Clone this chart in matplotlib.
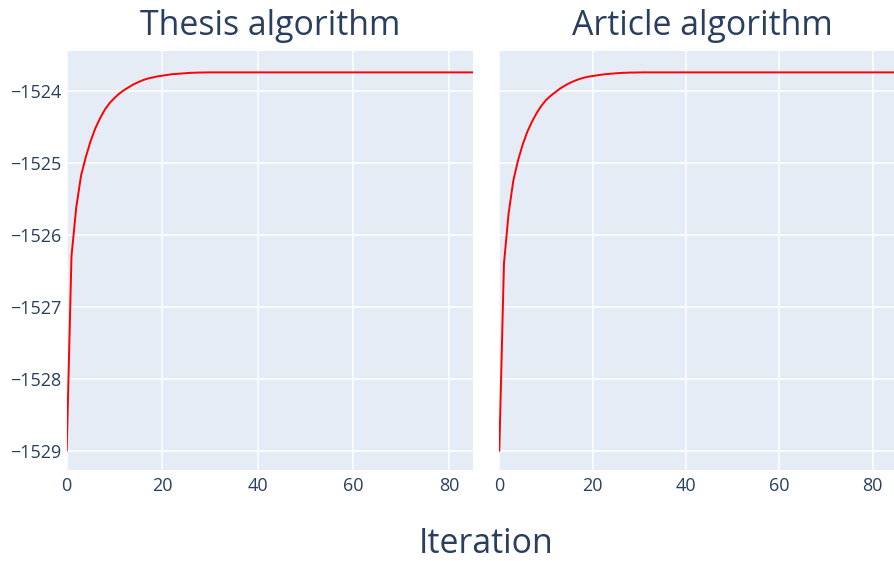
import matplotlib
matplotlib.use("Agg")
import matplotlib.pyplot as plt

plt.rcParams['font.family'] = ['Open Sans', 'DejaVu Sans']
plt.rcParams['axes.unicode_minus'] = True

titles = ["Thesis algorithm", "Article algorithm"]
x_label = "Iteration"

thesis_ll = [
    -1529.0, -1526.3, -1525.62, -1525.18, -1524.92, -1524.7, -1524.52, -1524.38,
    -1524.26, -1524.17, -1524.10, -1524.04, -1523.99, -1523.95, -1523.91, -1523.88,
    -1523.85, -1523.83, -1523.815, -1523.80, -1523.79, -1523.78, -1523.77, -1523.765,
    -1523.76, -1523.755, -1523.75, -1523.748, -1523.746, -1523.745, -1523.744, -1523.744,
    -1523.744, -1523.744, -1523.744, -1523.744, -1523.744, -1523.744, -1523.744, -1523.744,
    -1523.744, -1523.744, -1523.744, -1523.744, -1523.744, -1523.744, -1523.744, -1523.744,
    -1523.744, -1523.744, -1523.744, -1523.744, -1523.744, -1523.744, -1523.744, -1523.744,
    -1523.744, -1523.744, -1523.744, -1523.744, -1523.744, -1523.744, -1523.744, -1523.744,
    -1523.744, -1523.744, -1523.744, -1523.744, -1523.744, -1523.744, -1523.744, -1523.744,
    -1523.744, -1523.744, -1523.744, -1523.744, -1523.744, -1523.744, -1523.744, -1523.744,
    -1523.744, -1523.744, -1523.744, -1523.744, -1523.744, -1523.744,
]
thesis_iter = list(range(len(thesis_ll)))

article_ll = [
    -1529.0, -1526.4, -1525.7, -1525.25, -1524.97, -1524.75, -1524.57, -1524.43,
    -1524.31, -1524.21, -1524.13, -1524.07, -1524.02, -1523.97, -1523.93, -1523.895,
    -1523.865, -1523.84, -1523.82, -1523.805, -1523.795, -1523.785, -1523.775, -1523.768,
    -1523.762, -1523.757, -1523.752, -1523.749, -1523.747, -1523.746, -1523.745, -1523.744,
    -1523.744, -1523.744, -1523.744, -1523.744, -1523.744, -1523.744, -1523.744, -1523.744,
    -1523.744, -1523.744, -1523.744, -1523.744, -1523.744, -1523.744, -1523.744, -1523.744,
    -1523.744, -1523.744, -1523.744, -1523.744, -1523.744, -1523.744, -1523.744, -1523.744,
    -1523.744, -1523.744, -1523.744, -1523.744, -1523.744, -1523.744, -1523.744, -1523.744,
    -1523.744, -1523.744, -1523.744, -1523.744, -1523.744, -1523.744, -1523.744, -1523.744,
    -1523.744, -1523.744, -1523.744, -1523.744, -1523.744, -1523.744, -1523.744, -1523.744,
    -1523.744, -1523.744, -1523.744, -1523.744, -1523.744, -1523.744, -1523.744, -1523.744,
]
article_iter = list(range(len(article_ll)))

x_ticks = [0, 20, 40, 60, 80]
y_ticks = [-1529, -1528, -1527, -1526, -1525, -1524]

W, H = 895, 561
fig = plt.figure(figsize=(W / 100, H / 100), dpi=100)
fig.patch.set_facecolor("white")

text_color = "#2a3f5f"
bg = "#E5ECF6"

ax_top = 50.5
ax_bot = 470
ax_w = 406
positions = [66.7, 499.3]

series = [(thesis_iter, thesis_ll), (article_iter, article_ll)]

for i, (left, (xs, ys), title) in enumerate(zip(positions, series, titles)):
    ax = fig.add_axes([left / W, 1 - ax_bot / H, ax_w / W, (ax_bot - ax_top) / H])
    ax.set_facecolor(bg)
    for s in ax.spines.values():
        s.set_visible(False)
    ax.plot(xs, ys, color="red", lw=1.4, zorder=3, solid_joinstyle="round")
    ax.set_xlim(0, xs[-1])
    ax.set_ylim(-1529.27, -1523.44)
    ax.set_xticks(x_ticks)
    ax.set_yticks(y_ticks)
    ax.grid(True, color="white", lw=1.1, zorder=0)
    ax.set_axisbelow(True)
    ax.tick_params(length=0, labelsize=13, colors=text_color, pad=5)
    ax.tick_params(axis="y", pad=4)
    if i > 0:
        ax.tick_params(axis="y", labelleft=False)
    center = (left + ax_w / 2) / W
    fig.text(center, 1 - 26 / H, title, ha="center", va="center",
             fontsize=24.4, color=text_color)

fig.text((positions[0] + positions[1] + ax_w) / 2 / W, 1 - 544 / H, x_label,
         ha="center", va="center", fontsize=24.4, color=text_color)

fig.savefig("out.png", dpi=100)
